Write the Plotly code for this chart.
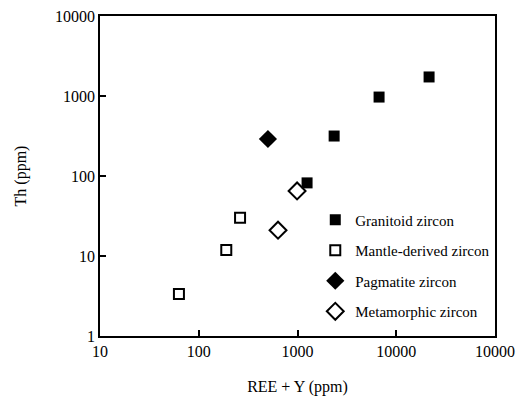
import plotly.graph_objects as go

granitoid_x = [1250, 2350, 6700, 21500]
granitoid_y = [82, 316, 970, 1730]
mantle_x = [63, 190, 262]
mantle_y = [3.35, 11.9, 30]
pegmatite_x = [502]
pegmatite_y = [290]
metamorphic_x = [635, 990]
metamorphic_y = [21, 65]

x_tickvals = [10, 100, 1000, 10000, 100000]
x_ticktext = ["10", "100", "1000", "10000", "10000"]
y_tickvals = [1, 10, 100, 1000, 10000]
y_ticktext = ["1", "10", "100", "1000", "10000"]

font = "Liberation Serif"

fig = go.Figure()
fig.add_trace(go.Scatter(x=granitoid_x, y=granitoid_y, mode="markers", name="Granitoid zircon",
                         legendgroup="a",
                         marker=dict(symbol="square", size=11, color="black")))
fig.add_trace(go.Scatter(x=mantle_x, y=mantle_y, mode="markers", name="Mantle-derived zircon",
                         legendgroup="b",
                         marker=dict(symbol="square-open", size=10, color="black", line=dict(width=2))))
fig.add_trace(go.Scatter(x=pegmatite_x, y=pegmatite_y, mode="markers", name="Pagmatite zircon",
                         legendgroup="c",
                         marker=dict(symbol="diamond", size=14, color="black")))
fig.add_trace(go.Scatter(x=metamorphic_x, y=metamorphic_y, mode="markers", name="Metamorphic zircon",
                         legendgroup="d",
                         marker=dict(symbol="diamond-open", size=13, color="black", line=dict(width=2))))

fig.update_layout(
    width=516, height=402,
    margin=dict(l=100, r=21, t=16, b=66, autoexpand=False),
    paper_bgcolor="white", plot_bgcolor="white",
    font=dict(family=font, size=15, color="black"),
    legend=dict(x=0.545, y=0.414, xanchor="left", yanchor="top",
                bgcolor="rgba(0,0,0,0)", tracegroupgap=8,
                font=dict(family=font, size=15, color="black"), itemwidth=30),
    showlegend=True,
)
fig.update_xaxes(type="log", range=[1, 5], tickvals=x_tickvals, ticktext=x_ticktext,
                 tickfont=dict(family=font, size=16, color="black"), automargin=False,
                 ticks="inside", ticklen=6, tickwidth=1.5, tickcolor="black",
                 showline=True, linecolor="black", linewidth=1.5, mirror=True,
                 showgrid=False, zeroline=False,
                 title=dict(text="REE + Y (ppm)", font=dict(family=font, size=16, color="black"), standoff=22))
fig.update_yaxes(type="log", range=[0, 4], tickvals=y_tickvals, ticktext=y_ticktext,
                 tickfont=dict(family=font, size=16, color="black"), automargin=False,
                 ticks="inside", ticklen=6, tickwidth=1.5, tickcolor="black",
                 showline=True, linecolor="black", linewidth=1.5, mirror=True,
                 showgrid=False, zeroline=False,
                 title=dict(text="Th (ppm)", font=dict(family=font, size=16, color="black"), standoff=24))

fig.write_html("out.html")
